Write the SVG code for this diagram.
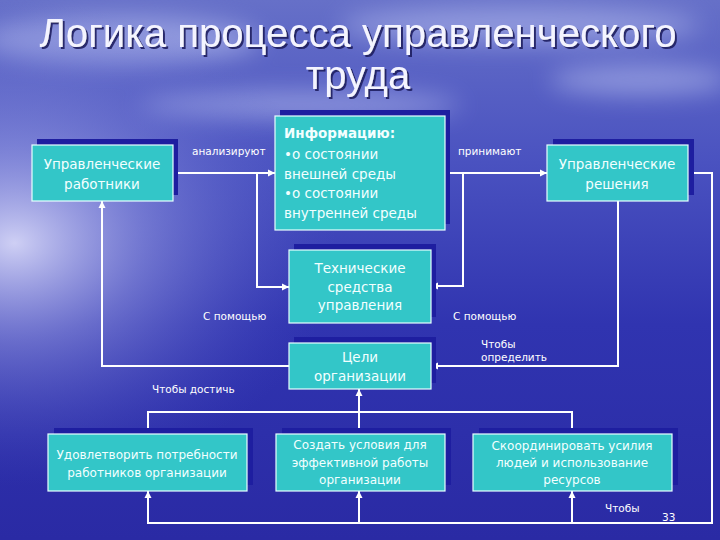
<svg xmlns="http://www.w3.org/2000/svg" width="720" height="540" viewBox="0 0 720 540">
<defs>
<linearGradient id="bg" x1="0" y1="0" x2="0" y2="1">
<stop offset="0" stop-color="#6670c8"/>
<stop offset="0.3" stop-color="#4a52c0"/>
<stop offset="0.6" stop-color="#3034b0"/>
<stop offset="1" stop-color="#2a2aa4"/>
</linearGradient>
<radialGradient id="glow" cx="0.02" cy="0.45" r="0.45">
<stop offset="0" stop-color="#e8e8ff" stop-opacity="0.85"/>
<stop offset="0.4" stop-color="#b0b4ee" stop-opacity="0.45"/>
<stop offset="1" stop-color="#5058c8" stop-opacity="0"/>
</radialGradient>
<filter id="blur" x="-50%" y="-50%" width="200%" height="200%"><feGaussianBlur stdDeviation="12"/></filter>
<filter id="tshadow" x="-5%" y="-20%" width="110%" height="150%">
<feDropShadow dx="2" dy="2" stdDeviation="0.6" flood-color="#1a1a60" flood-opacity="0.9"/>
</filter>
<marker id="ah" markerWidth="8" markerHeight="8" refX="7" refY="4" orient="auto" markerUnits="userSpaceOnUse">
<path d="M0,0.5 L7,4 L0,7.5 Z" fill="#ffffff"/>
</marker>
<style>
.box{fill:#33c6c8;stroke:#e8ffff;stroke-width:1.2}
.sh{fill:#1e1ea0}
.t{font-family:"DejaVu Sans","Noto Sans",sans-serif;fill:#f2ffff;font-size:13.5px;text-anchor:middle}
.ts{font-family:"DejaVu Sans","Noto Sans",sans-serif;fill:#f2ffff;font-size:12px;text-anchor:middle}
.l{font-family:"DejaVu Sans","Noto Sans",sans-serif;fill:#ffffff;font-size:10.5px}
.c{fill:none;stroke:#ffffff;stroke-width:2}
.title{font-family:"Liberation Sans","DejaVu Sans",sans-serif;font-size:40px;text-anchor:middle;fill:#f4f4ff}
</style>
</defs>
<rect width="720" height="540" fill="url(#bg)"/>
<g filter="url(#blur)" fill="#b8c0f0" opacity="0.55">
<ellipse cx="120" cy="40" rx="140" ry="25"/>
<ellipse cx="520" cy="25" rx="180" ry="18"/>
<ellipse cx="640" cy="80" rx="90" ry="15"/>
<ellipse cx="300" cy="105" rx="160" ry="14"/>
</g>
<rect width="720" height="540" fill="url(#glow)"/>

<g id="title" filter="url(#tshadow)">
<text class="title" x="358" y="47" textLength="637" lengthAdjust="spacingAndGlyphs">Логика процесса управленческого</text>
<text class="title" x="358" y="89">труда</text>
</g>

<g id="connectors">
<path class="c" d="M173,173 H275" marker-end="url(#ah)"/>
<path class="c" d="M257,173 V287 H289" marker-end="url(#ah)"/>
<path class="c" d="M445,173 H547" marker-end="url(#ah)"/>
<path class="c" d="M463,173 V286 H431" marker-end="url(#ah)"/>
<path class="c" d="M618,201 V366 H431" marker-end="url(#ah)"/>
<path class="c" d="M289,366 H102 V201" marker-end="url(#ah)"/>
<path class="c" d="M688,173 H712 V523 H148 V491" marker-end="url(#ah)"/>
<path class="c" d="M359,523 V491" marker-end="url(#ah)"/>
<path class="c" d="M572,523 V491" marker-end="url(#ah)"/>
<path class="c" d="M148,434 V412 H572 V434"/>
<path class="c" d="M359,434 V389" marker-end="url(#ah)"/>
</g>

<g id="labels">
<text class="l" x="192" y="155">анализируют</text>
<text class="l" x="458" y="155">принимают</text>
<text class="l" x="203" y="320">С помощью</text>
<text class="l" x="453" y="320">С помощью</text>
<text class="l" x="481" y="348">Чтобы</text>
<text class="l" x="481" y="361">определить</text>
<text class="l" x="152" y="393">Чтобы достичь</text>
<text class="l" x="605" y="512">Чтобы</text>
<text class="l" x="662" y="521" font-size="13px">33</text>
</g>

<g id="workers">
<rect class="sh" x="37" y="139" width="141" height="56"/>
<rect class="box" x="32" y="145" width="141" height="56"/>
<text class="t" x="102" y="169">Управленческие</text>
<text class="t" x="102" y="189">работники</text>
</g>

<g id="info">
<rect class="sh" x="280" y="110" width="170" height="114"/>
<rect class="box" x="275" y="116" width="170" height="114"/>
<text class="t" x="284" y="138" style="text-anchor:start;font-weight:bold">Информацию:</text>
<text class="t" x="284" y="159" style="text-anchor:start">•о состоянии</text>
<text class="t" x="284" y="179" style="text-anchor:start">внешней среды</text>
<text class="t" x="284" y="198" style="text-anchor:start">•о состоянии</text>
<text class="t" x="284" y="218" style="text-anchor:start">внутренней среды</text>
</g>

<g id="tech">
<rect class="sh" x="294" y="244" width="142" height="73"/>
<rect class="box" x="289" y="250" width="142" height="73"/>
<text class="t" x="360" y="273">Технические</text>
<text class="t" x="360" y="292">средства</text>
<text class="t" x="360" y="310">управления</text>
</g>

<g id="decisions">
<rect class="sh" x="553" y="139" width="141" height="56"/>
<rect class="box" x="547" y="145" width="141" height="56"/>
<text class="t" x="617" y="169">Управленческие</text>
<text class="t" x="617" y="189">решения</text>
</g>

<g id="goals">
<rect class="sh" x="294" y="337" width="142" height="46"/>
<rect class="box" x="289" y="343" width="142" height="46"/>
<text class="t" x="360" y="362">Цели</text>
<text class="t" x="360" y="381">организации</text>
</g>

<g id="satisfy">
<rect class="sh" x="54" y="428" width="199" height="57"/>
<rect class="box" x="48" y="434" width="199" height="57"/>
<text class="ts" x="147" y="459">Удовлетворить потребности</text>
<text class="ts" x="147" y="477">работников организации</text>
</g>

<g id="create">
<rect class="sh" x="282" y="428" width="169" height="57"/>
<rect class="box" x="276" y="434" width="169" height="57"/>
<text class="ts" x="360" y="449">Создать условия для</text>
<text class="ts" x="360" y="467">эффективной работы</text>
<text class="ts" x="360" y="484">организации</text>
</g>

<g id="coordinate">
<rect class="sh" x="479" y="428" width="199" height="57"/>
<rect class="box" x="473" y="434" width="199" height="57"/>
<text class="ts" x="572" y="450">Скоординировать усилия</text>
<text class="ts" x="572" y="467">людей и использование</text>
<text class="ts" x="572" y="484">ресурсов</text>
</g>
</svg>
